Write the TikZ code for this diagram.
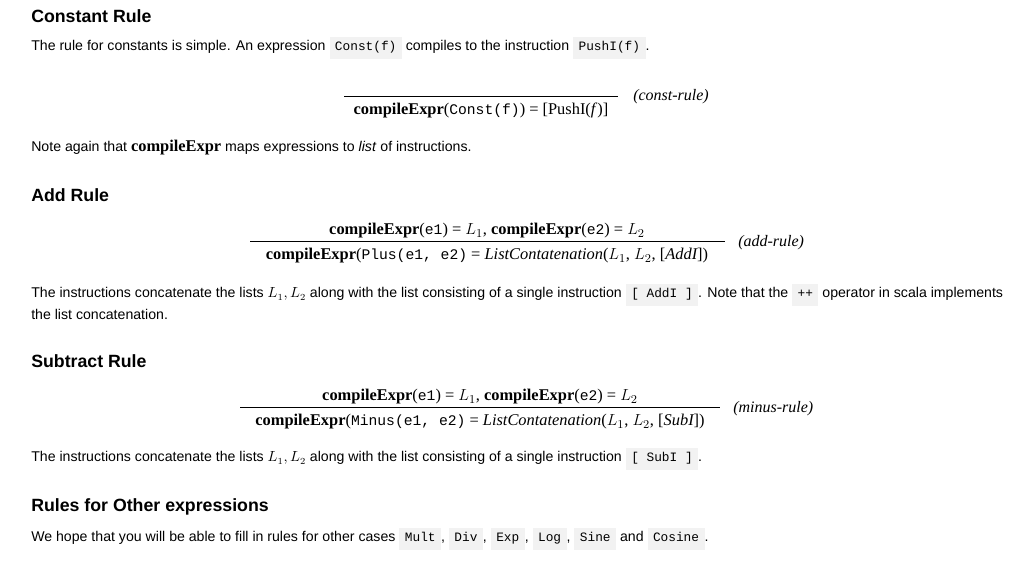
\documentclass[tikz,border=0pt]{standalone}
\usepackage{fontspec}
\setmainfont{Liberation Sans}
\newfontfamily\rmser{Liberation Serif}
\setmonofont{Liberation Mono}
\definecolor{codebg}{HTML}{F2F2F2}
\newcommand{\cbx}[1]{{\setlength{\fboxsep}{2.5pt}\colorbox{codebg}{\ttfamily\fontsize{9.6}{11}\selectfont\strut\,#1\,}}}
\newcommand{\ce}{\textbf{compileExpr}}
\newcommand{\tts}[1]{{\ttfamily\fontsize{11}{12}\selectfont #1}}
\newcommand{\ssi}[1]{{\rmser\itshape #1}}
\tikzset{
  body/.style={anchor=west,inner sep=0pt,font=\fontsize{10.6}{14}\selectfont},
  head/.style={anchor=west,inner sep=0pt,font=\bfseries\fontsize{13.3}{15}\selectfont},
  rl/.style={inner sep=0pt,font=\rmser\fontsize{12.3}{14}\selectfont},
  lab/.style={anchor=west,inner sep=0pt,font=\rmser\itshape\fontsize{12}{14}\selectfont},
  bar/.style={line width=0.6pt}
}
\begin{document}
\begin{tikzpicture}[x=0.75pt,y=-0.75pt]
\useasboundingbox[fill=white] (0,0) rectangle (1032,572);
\node[head] (h1) at (31,16) {Constant Rule};
\node[body] (p1) at (31,48) {The rule for constants is simple. An expression \cbx{Const(f)} compiles to the instruction \cbx{PushI(f)}.};
\coordinate (c1a) at (344,96); \coordinate (c1b) at (618,96);
\draw[bar] (c1a) -- (c1b);
\node[rl] (r1) at (481,110) {\ce(\tts{Const(f)}) = [PushI(\textit{f})]};
\node[lab] (l1) at (633,97) {(const-rule)};
\node[body] (p2) at (31,148) {Note again that {\rmser\bfseries\fontsize{12.3}{14}\selectfont compileExpr} maps expressions to \textit{list} of instructions.};
\node[head] (h2) at (31,195) {Add Rule};
\node[rl] (a1) at (487,231) {\ce(\tts{e1}) = $\large L_1$, \ce(\tts{e2}) = $\large L_2$};
\coordinate (c2a) at (250,241); \coordinate (c2b) at (725,241);
\draw[bar] (c2a) -- (c2b);
\node[rl] (a2) at (487,256) {\ce(\tts{Plus(e1, e2)} = \ssi{ListContatenation}($\large L_1$, $\large L_2$, [\ssi{AddI}])};
\node[lab] (l2) at (738,243) {(add-rule)};
\node[body] (p3) at (31,295) {The instructions concatenate the lists $\large L_1,L_2$ along with the list consisting of a single instruction \cbx{[ AddI ]}. Note that the \cbx{++} operator in scala implements};
\node[body] (p3b) at (31,314) {the list concatenation.};
\node[head] (h3) at (31,361) {Subtract Rule};
\node[rl] (s1) at (480,397) {\ce(\tts{e1}) = $\large L_1$, \ce(\tts{e2}) = $\large L_2$};
\coordinate (c3a) at (240,407); \coordinate (c3b) at (720,407);
\draw[bar] (c3a) -- (c3b);
\node[rl] (s2) at (480,422) {\ce(\tts{Minus(e1, e2)} = \ssi{ListContatenation}($\large L_1$, $\large L_2$, [\ssi{SubI}])};
\node[lab] (l3) at (733,409) {(minus-rule)};
\node[body] (p4) at (31,459) {The instructions concatenate the lists $\large L_1,L_2$ along with the list consisting of a single instruction \cbx{[ SubI ]}.};
\node[head] (h4) at (31,507) {Rules for Other expressions};
\node[body] (p5) at (31,539) {We hope that you will be able to fill in rules for other cases \cbx{Mult}, \cbx{Div}, \cbx{Exp}, \cbx{Log}, \cbx{Sine} and \cbx{Cosine}.};
\end{tikzpicture}
\end{document}
